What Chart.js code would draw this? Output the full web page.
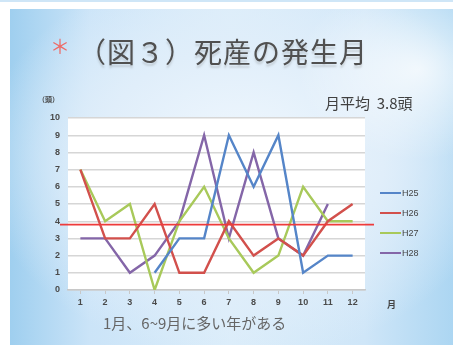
<!DOCTYPE html>
<html>
<head>
<meta charset="utf-8">
<script src="https://cdn.jsdelivr.net/npm/chart.js@4/dist/chart.umd.min.js"></script>
<style>
  html, body { margin: 0; padding: 0; background: #fff; }
  #page { position: relative; width: 453px; height: 345px; overflow: hidden; font-family: "Noto Sans CJK JP", sans-serif; }
  #topline { position: absolute; left: 0; top: 0; width: 453px; height: 2px; background: #cfe6f7; }
  #slide {
    position: absolute; left: 10px; top: 9px; width: 443px; height: 336px;
    background:
      radial-gradient(ellipse 120px 90px at 92% 18%, rgba(255,255,255,0.75), rgba(255,255,255,0) 100%),
      radial-gradient(ellipse 260px 200px at 52% 45%, #f1f8fe 0%, #e0eefa 55%, rgba(214,234,248,0) 100%),
      linear-gradient(90deg, #9fcfef 0%, #cbe4f8 18%, #dbedfa 50%, #cfe6f8 80%, #acd6f2 100%);
  }
  canvas { position: absolute; left: 0; top: 0; }
  .txt { position: absolute; white-space: nowrap; color: #4a4a4a; }
  #star { left: 50px; top: 36px; font-size: 20px; line-height: 20px; color: #ee6a66; }
  #title { left: 78px; top: 31px; font-size: 28px; color: #505050; letter-spacing: 1px; text-shadow: 0 3px 2px rgba(120,120,120,0.25); }
  #unit { left: 38px; top: 94px; font-size: 7px; font-weight: bold; color: #444; }
  #avg { left: 325px; top: 92px; font-size: 15px; color: #404040; }
  #month { left: 387px; top: 298px; font-size: 9px; font-weight: bold; color: #444; }
  #note { left: 103px; top: 312px; font-size: 15px; color: #666; }
  #legend { position: absolute; left: 380px; top: 183px; }
  .item { height: 20px; display: flex; align-items: center; font-family: "Liberation Sans", sans-serif; font-size: 9px; color: #444; }
  .swatch { width: 21px; height: 2px; margin-right: 1px; }
</style>
</head>
<body>
<div id="page">
  <div id="topline"></div>
  <div id="slide"></div>
  <canvas id="chart" width="453" height="345"></canvas>
  <div class="txt" id="star">＊</div>
  <div class="txt" id="title">（図３）死産の発生月</div>
  <div class="txt" id="unit">（頭）</div>
  <div class="txt" id="avg">月平均&nbsp;&nbsp;3.8頭</div>
  <div class="txt" id="month">月</div>
  <div class="txt" id="note">1月、6~9月に多い年がある</div>
  <div id="legend"></div>
</div>
<script>
// months on the x axis
const months = ["1", "2", "3", "4", "5", "6", "7", "8", "9", "10", "11", "12"];

// stillbirths per month, by year
const h25 = [null, null, null, 1, 3, 3, 9, 6, 9, 1, 2, 2];
const h26 = [7, 3, 3, 5, 1, 1, 4, 2, 3, 2, 4, 5];
const h27 = [7, 4, 5, 0, 4, 6, 3, 1, 2, 6, 4, 4];
const h28 = [3, 3, 1, 2, 4, 9, 3, 8, 3, 2, 5, null];

const seriesNames = ["H25", "H26", "H27", "H28"];
const seriesColors = ["#5585c8", "#d2504c", "#a8c95a", "#8466a8"];

// monthly average
const AVG = 3.8;

const series = [h25, h26, h27, h28];

// white plot background
const plotBackground = {
    id: "plotBackground",
    beforeDraw(chart) {
        const { ctx, chartArea } = chart;
        ctx.save();
        ctx.fillStyle = "#ffffff";
        ctx.fillRect(chartArea.left, chartArea.top, chartArea.right - chartArea.left, chartArea.bottom - chartArea.top);
        ctx.restore();
    }
};

// red average line, a bit wider than the plot
const averageLine = {
    id: "averageLine",
    afterDatasetsDraw(chart) {
        const { ctx, chartArea, scales } = chart;
        const y = scales.y.getPixelForValue(AVG);
        ctx.save();
        ctx.strokeStyle = "#ee3b3b";
        ctx.lineWidth = 1.8;
        ctx.beginPath();
        ctx.moveTo(chartArea.left - 8, y);
        ctx.lineTo(chartArea.right + 9, y);
        ctx.stroke();
        ctx.restore();
    }
};

const tickFont = { family: "Liberation Sans", size: 9, weight: "bold" };

new Chart(document.getElementById("chart"), {
    type: "line",
    data: {
        labels: months,
        datasets: series.map((values, i) => ({
            label: seriesNames[i],
            data: values,
            borderColor: seriesColors[i],
            backgroundColor: seriesColors[i],
            borderWidth: 2.4,
            pointRadius: 0,
            tension: 0,
            spanGaps: false
        }))
    },
    options: {
        responsive: false,
        animation: false,
        layout: { padding: { left: 0, top: 118, right: 88, bottom: 35 } },
        plugins: {
            legend: { display: false },
            tooltip: { enabled: false }
        },
        scales: {
            x: {
                offset: true,
                afterFit: scale => { scale.height = 20; },
                grid: { drawOnChartArea: false, drawTicks: true, tickLength: 4, color: "#c8c8c8" },
                border: { color: "#c8c8c8", width: 1.5 },
                ticks: { color: "#4a4a4a", font: tickFont, padding: 3, maxRotation: 0 }
            },
            y: {
                min: 0,
                max: 10,
                afterFit: scale => { scale.width = 68; },
                grid: { color: "#d6d6d6", lineWidth: 1.4, drawTicks: false },
                border: { display: false },
                ticks: { stepSize: 1, color: "#4a4a4a", font: tickFont, padding: 8 }
            }
        }
    },
    plugins: [plotBackground, averageLine]
});

// legend on the right
const legend = document.getElementById("legend");
seriesNames.forEach((name, i) => {
    const item = document.createElement("div");
    item.className = "item";
    item.innerHTML = '<span class="swatch" style="background:' + seriesColors[i] + '"></span>' + name;
    legend.appendChild(item);
});
</script>
</body>
</html>
